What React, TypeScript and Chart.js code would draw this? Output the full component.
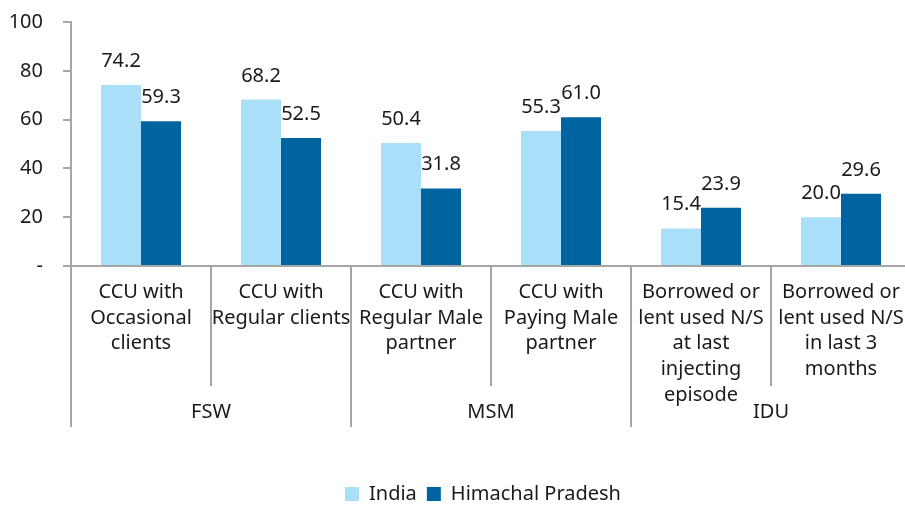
import React, { useEffect, useRef } from "react";
import { Chart, registerables } from "chart.js";

Chart.register(...registerables);

const categoryLines: string[][] = [
  ["CCU with", "Occasional", "clients"],
  ["CCU with", "Regular clients"],
  ["CCU with", "Regular Male", "partner"],
  ["CCU with", "Paying Male", "partner"],
  ["Borrowed or", "lent used N/S", "at last", "injecting", "episode"],
  ["Borrowed or", "lent used N/S", "in last 3", "months"],
];
const categories = categoryLines.map((l) => l.join(" "));
const groups = ["FSW", "MSM", "IDU"];
const groupSpan = [2, 2, 2];
const indiaValues = [74.2, 68.2, 50.4, 55.3, 15.4, 20.0];
const hpValues = [59.3, 52.5, 31.8, 61.0, 23.9, 29.6];
const seriesNames = ["India", "Himachal Pradesh"];
const yMin = 0;
const yMax = 100;
const yStep = 20;

const FONT = "'Noto Sans', sans-serif";
const TEXT = "#1a1a1a";
const AXIS = "#a6a6a6";

const labelsPlugin = {
  id: "customLabels",
  afterLayout(chart: any) {
    const lg = chart.legend;
    if (lg) {
      lg.left += 27.5;
      lg.right += 27.5;
    }
  },
  afterDatasetsDraw(chart: any) {
    const ctx = chart.ctx;
    ctx.save();
    ctx.font = `20px ${FONT}`;
    ctx.fillStyle = TEXT;
    ctx.textAlign = "center";
    ctx.textBaseline = "alphabetic";
    chart.data.datasets.forEach((ds: any, di: number) => {
      const meta = chart.getDatasetMeta(di);
      meta.data.forEach((el: any, i: number) => {
        ctx.fillText(Number(ds.data[i]).toFixed(1), el.x, el.y - 18);
      });
    });
    ctx.restore();
  },
  afterDraw(chart: any) {
    const ctx = chart.ctx;
    const xs = chart.scales.x;
    const bottom = chart.chartArea.bottom;
    const n = categories.length;
    const w = xs.width / n;
    const left = xs.left;
    ctx.save();
    ctx.strokeStyle = AXIS;
    ctx.lineWidth = 2;
    const groupBounds = new Set<number>();
    let acc = 0;
    groupBounds.add(0);
    groupSpan.forEach((s) => {
      acc += s;
      groupBounds.add(acc);
    });
    for (let b = 0; b <= n; b++) {
      const x = Math.round(left + b * w);
      const yEnd = groupBounds.has(b) ? bottom + 161 : bottom + 120;
      ctx.beginPath();
      ctx.moveTo(x, bottom);
      ctx.lineTo(x, yEnd);
      ctx.stroke();
    }
    ctx.font = `20px ${FONT}`;
    ctx.fillStyle = TEXT;
    ctx.textAlign = "center";
    ctx.textBaseline = "middle";
    categoryLines.forEach((lines, i) => {
      const cx = xs.getPixelForValue(i);
      lines.forEach((line, k) => {
        ctx.fillText(line, cx, bottom + 26 + k * 25.8);
      });
    });
    let start = 0;
    groups.forEach((g, gi) => {
      const cx = left + (start + groupSpan[gi] / 2) * w;
      ctx.fillText(g, cx, bottom + 146);
      start += groupSpan[gi];
    });
    ctx.restore();
  },
};

export default function App() {
  const ref = useRef<HTMLCanvasElement | null>(null);
  useEffect(() => {
    if (!ref.current) return;
    const chart = new Chart(ref.current, {
      type: "bar",
      data: {
        labels: categories,
        datasets: [
          {
            label: seriesNames[0],
            data: indiaValues,
            backgroundColor: "#a9dff8",
            categoryPercentage: 80 / 140,
            barPercentage: 1,
          },
          {
            label: seriesNames[1],
            data: hpValues,
            backgroundColor: "#0064a0",
            categoryPercentage: 80 / 140,
            barPercentage: 1,
          },
        ],
      },
      options: {
        responsive: false,
        animation: false,
        layout: { padding: { top: 22, left: 0, right: 55, bottom: 0 } },
        plugins: {
          legend: {
            position: "bottom",
            labels: {
              font: { family: FONT, size: 20 },
              color: TEXT,
              boxWidth: 14,
              boxHeight: 14,
              padding: 10,
            },
          },
          tooltip: { enabled: false },
        },
        scales: {
          x: {
            ticks: { display: false },
            grid: { display: false },
            border: { display: true, color: AXIS, width: 2 },
            afterFit(scale: any) {
              scale.height = 208;
              scale.paddingLeft = 0;
              scale.paddingRight = 0;
            },
          },
          y: {
            min: yMin,
            max: yMax,
            ticks: {
              stepSize: yStep,
              font: { family: FONT, size: 20 },
              color: TEXT,
              padding: 20,
              callback: (v: any) => (Number(v) === 0 ? "-" : String(v)),
            },
            grid: {
              display: true,
              drawOnChartArea: false,
              drawTicks: true,
              tickLength: 8,
              color: AXIS,
              lineWidth: 2,
            },
            border: { display: true, color: AXIS, width: 2 },
            afterFit(scale: any) {
              scale.width = 71;
              scale.paddingTop = 0;
              scale.paddingBottom = 0;
            },
          },
        },
      },
      plugins: [labelsPlugin],
    });
    return () => chart.destroy();
  }, []);
  return (
    <div style={{ position: "fixed", left: 0, top: 0, width: 966, height: 514 }}>
      <canvas ref={ref} width={966} height={514} style={{ width: 966, height: 514 }} />
    </div>
  );
}
